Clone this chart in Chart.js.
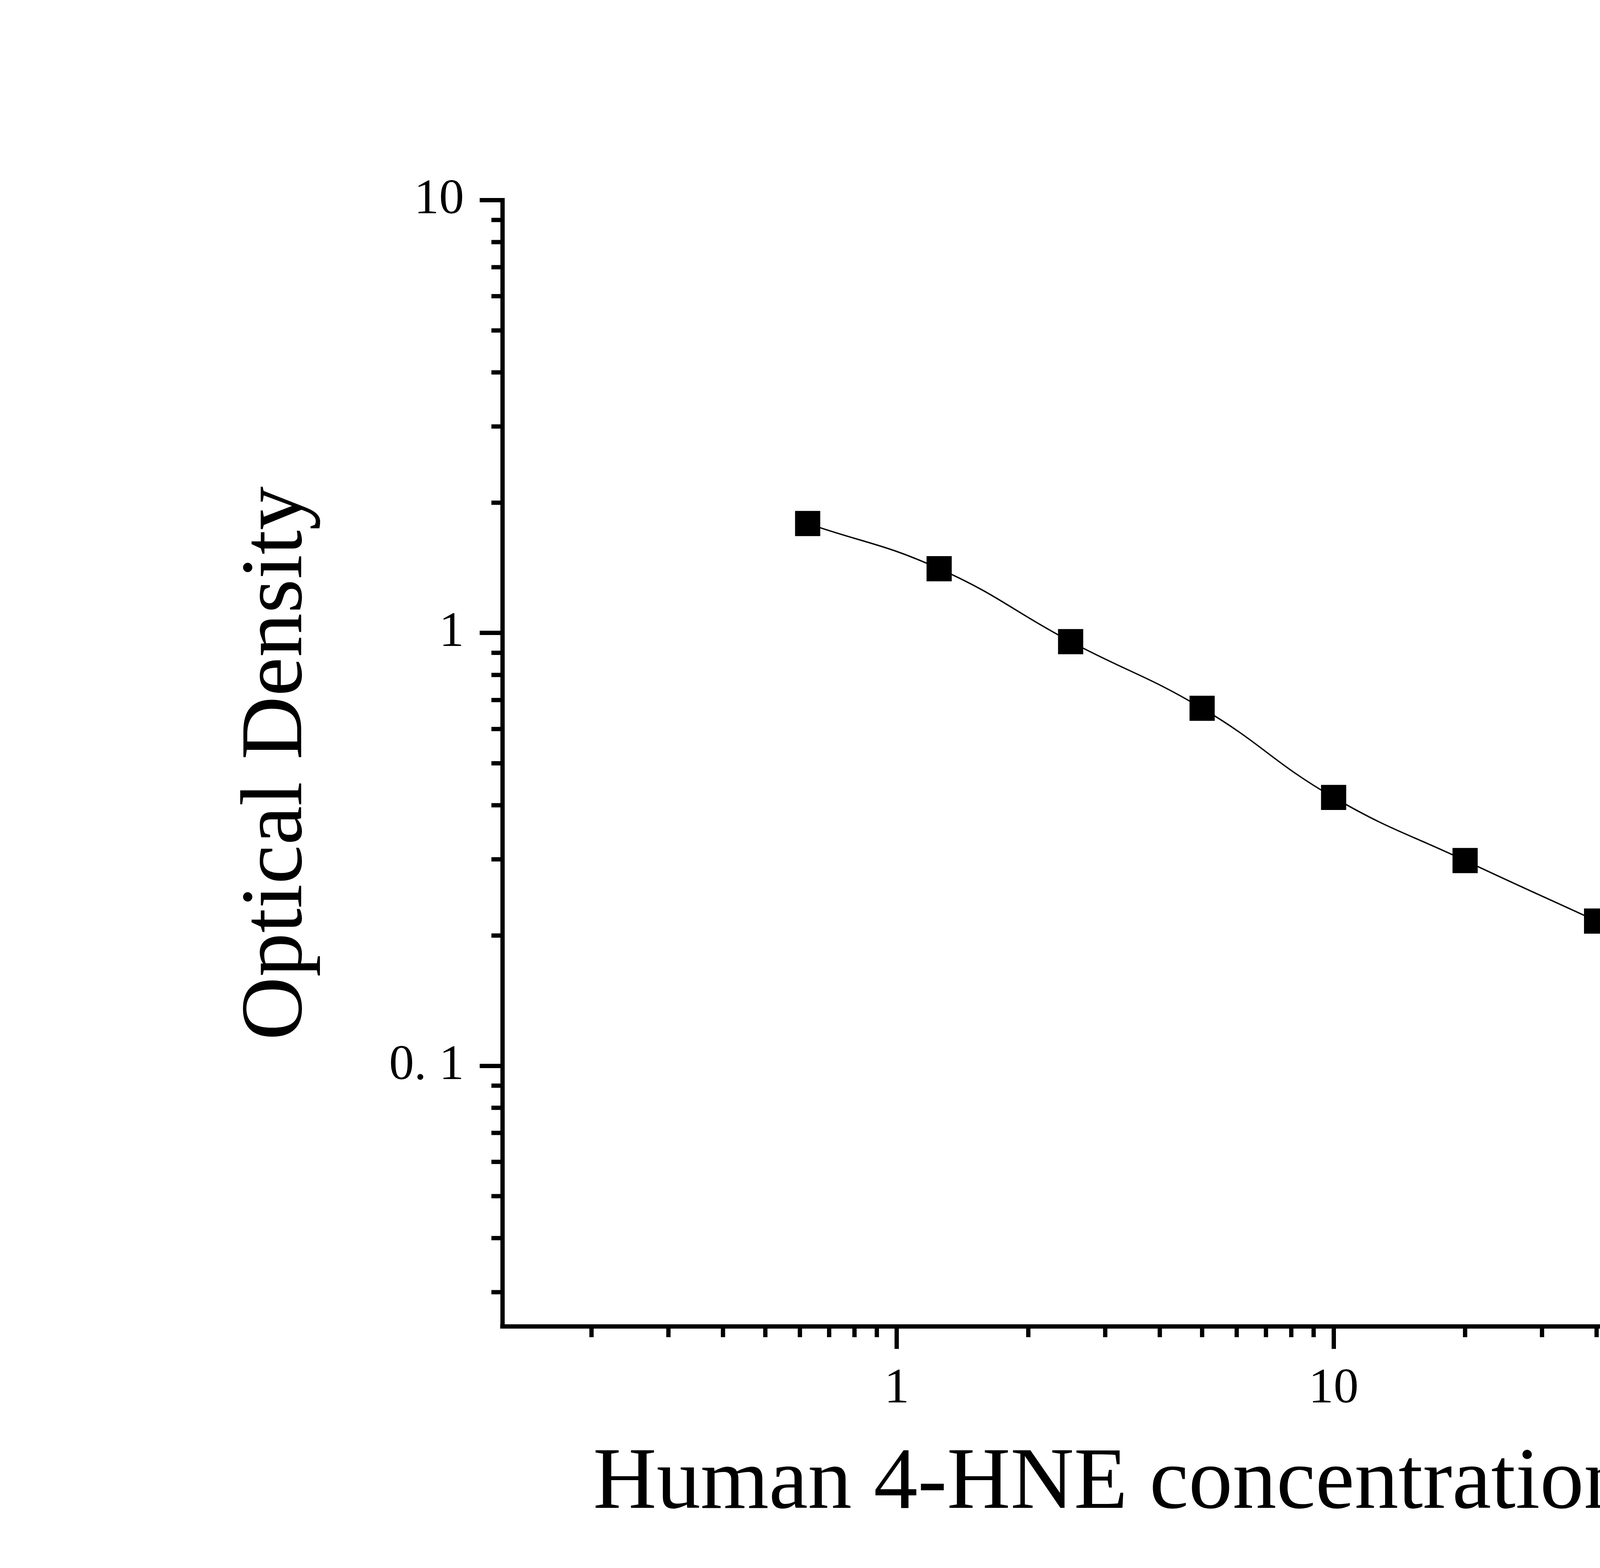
<!DOCTYPE html>
<html lang="en">
<head>
<meta charset="UTF-8">
<title>Human 4-HNE standard curve</title>
<script src="https://cdn.jsdelivr.net/npm/chart.js"></script>
<style>
    body {
        margin: 0;
        background: #fff;
    }
    #curve {
        display: block;
    }
</style>
</head>
<body>
<canvas id="curve" width="5749" height="4015"></canvas>
<script>
    // standard concentrations (ng/mL) and their optical density
    const concentrations = [0.625, 1.25, 2.5, 5, 10, 20, 40];
    const opticalDensity = [1.790, 1.408, 0.955, 0.670, 0.417, 0.298, 0.216];

    // axis ticks (log axes, majors labelled, minors plain)
    const xMajorTicks = [1, 10, 100];
    const xTickLabels = ['1', '10', '100'];
    const xMinorTicks = [0.2, 0.3, 0.4, 0.5, 0.6, 0.7, 0.8, 0.9,
                         2, 3, 4, 5, 6, 7, 8, 9,
                         20, 30, 40, 50, 60, 70, 80, 90,
                         200, 300, 400];
    const yMajorTicks = [0.1, 1, 10];
    const yTickLabels = ['0. 1', '1', '10'];
    const yMinorTicks = [0.03, 0.04, 0.05, 0.06, 0.07, 0.08, 0.09,
                         0.2, 0.3, 0.4, 0.5, 0.6, 0.7, 0.8, 0.9,
                         2, 3, 4, 5, 6, 7, 8, 9];

    const serif = "'Liberation Serif', 'Times New Roman', serif";

    // short minor tick marks, placed with the chart's own scales
    const minorTicks = {
        id: 'minorTicks',
        afterDraw(chart) {
            const {ctx, chartArea: area, scales: {x, y}} = chart;
            ctx.save();
            ctx.fillStyle = '#000';
            xMinorTicks.forEach(v => {
                const px = x.getPixelForValue(v);
                ctx.fillRect(px - 5.5, area.bottom - 5.5, 11, 33);
            });
            yMinorTicks.forEach(v => {
                const py = y.getPixelForValue(v);
                ctx.fillRect(area.left - 28, py - 5.5, 33.5, 11);
            });
            // square off the two axis corners
            ctx.fillRect(area.left - 5.5, area.top - 5.5, 11, 11);
            ctx.fillRect(area.left - 5.5, area.bottom - 5.5, 11, 11);
            ctx.restore();
        }
    };

    new Chart(document.getElementById('curve'), {
        type: 'line',
        data: {
            datasets: [{
                data: concentrations.map((c, i) => ({x: c, y: opticalDensity[i]})),
                borderColor: '#000',
                borderWidth: 3.5,
                tension: 0.45,
                pointStyle: 'rect',
                pointRadius: 45.6,
                pointHoverRadius: 45.6,
                pointBackgroundColor: '#000',
                pointBorderWidth: 0
            }]
        },
        options: {
            responsive: false,
            animation: false,
            devicePixelRatio: 1,
            events: [],
            layout: {
                padding: {top: 512.5, right: 543.5, bottom: 0, left: 0}
            },
            plugins: {
                legend: {display: false},
                tooltip: {enabled: false}
            },
            scales: {
                x: {
                    type: 'logarithmic',
                    position: 'bottom',
                    min: 0.125,
                    max: 400,
                    afterBuildTicks: s => { s.ticks = xMajorTicks.map(v => ({value: v})); },
                    afterFit: s => { s.height = 618.5; },
                    grid: {drawOnChartArea: false, tickLength: 57.5, tickWidth: 11, tickColor: '#000'},
                    border: {color: '#000', width: 11},
                    ticks: {
                        color: '#000',
                        padding: 27,
                        maxRotation: 0,
                        autoSkip: false,
                        font: {family: serif, size: 128},
                        callback: (v, i) => xTickLabels[i]
                    },
                    title: {
                        display: true,
                        text: 'Human 4-HNE concentration (ng/mL)',
                        color: '#000',
                        font: {family: serif, size: 225, lineHeight: 1.2},
                        padding: {top: 0, bottom: 78}
                    }
                },
                y: {
                    type: 'logarithmic',
                    position: 'left',
                    min: 0.025,
                    max: 10,
                    afterBuildTicks: s => { s.ticks = yMajorTicks.map(v => ({value: v})); },
                    afterFit: s => { s.width = 1286; },
                    grid: {drawOnChartArea: false, tickLength: 58, tickWidth: 11, tickColor: '#000'},
                    border: {color: '#000', width: 11},
                    ticks: {
                        color: '#000',
                        padding: 40,
                        autoSkip: false,
                        font: {family: serif, size: 128},
                        callback: (v, i) => yTickLabels[i]
                    },
                    title: {
                        display: true,
                        text: 'Optical Density',
                        color: '#000',
                        font: {family: serif, size: 225, lineHeight: 1.2},
                        padding: {top: 577, bottom: 0}
                    }
                }
            }
        },
        plugins: [minorTicks]
    });
</script>
</body>
</html>
